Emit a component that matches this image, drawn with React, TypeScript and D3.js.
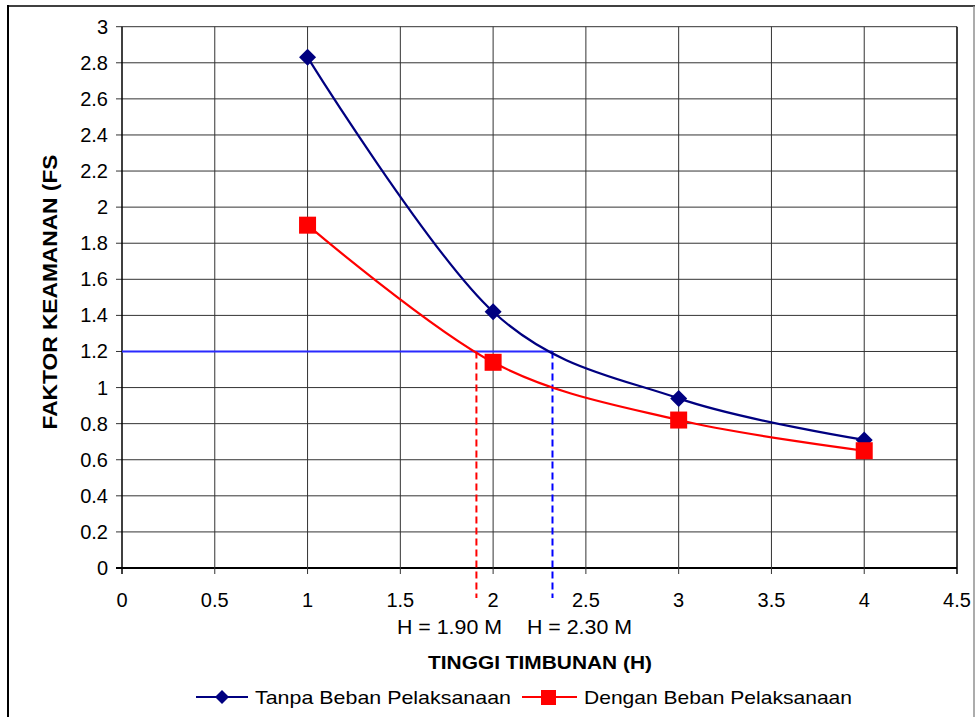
import React from "react";
import * as d3 from "d3";

const heights = [1, 2, 3, 4];
const fsTanpa = [2.83, 1.42, 0.94, 0.71];
const fsDengan = [1.9, 1.14, 0.82, 0.65];
const xTicks = [0, 0.5, 1, 1.5, 2, 2.5, 3, 3.5, 4, 4.5];
const yTicks = [0, 0.2, 0.4, 0.6, 0.8, 1, 1.2, 1.4, 1.6, 1.8, 2, 2.2, 2.4, 2.6, 2.8, 3];
const fsLimit = 1.2;
const hDengan = 1.91;
const hTanpa = 2.32;
const hLabels = ["H = 1.90 M", "H = 2.30 M"];
const seriesNames = ["Tanpa Beban Pelaksanaan", "Dengan Beban Pelaksanaan"];

const W = 975;
const H = 717;
const FONT = "'Liberation Sans', Arial, sans-serif";

export default function App() {
  const x = d3.scaleLinear().domain([0, 4.5]).range([122, 957]);
  const y = d3.scaleLinear().domain([0, 3]).range([568, 26.7]);
  const line = d3
    .line<[number, number]>()
    .x((d) => x(d[0]))
    .y((d) => y(d[1]))
    .curve(d3.curveCardinal.tension(0));
  const tanpaPts = heights.map((h, i) => [h, fsTanpa[i]] as [number, number]);
  const denganPts = heights.map((h, i) => [h, fsDengan[i]] as [number, number]);
  const navy = "#000080";
  const red = "#ff0000";
  const diamond = (cx: number, cy: number, r = 8.5) =>
    `M${cx},${cy - r}L${cx + r},${cy}L${cx},${cy + r}L${cx - r},${cy}Z`;

  return (
    <svg
      width={W}
      height={H}
      style={{ position: "absolute", left: 0, top: 0, background: "#fff" }}
      fontFamily={FONT}
    >
      <rect x={0} y={0} width={W} height={H} fill="#fff" />
      {/* outer frame */}
      <line x1={8} y1={6} x2={975} y2={6} stroke="#404040" strokeWidth={2} />
      <line x1={8} y1={5} x2={8} y2={717} stroke="#000" strokeWidth={2} />
      <line x1={974} y1={6} x2={974} y2={717} stroke="#909090" strokeWidth={1.5} />

      {/* grid */}
      {yTicks.map((t) => (
        <line key={"gy" + t} x1={116} x2={x(4.5)} y1={y(t)} y2={y(t)} stroke={t === 0 ? "#000" : "#333"} strokeWidth={t === 0 ? 2 : 1} />
      ))}
      {xTicks.map((t) => (
        <line key={"gx" + t} x1={x(t)} x2={x(t)} y1={y(3)} y2={574} stroke={t === 0 || t === 4.5 ? "#000" : "#333"} strokeWidth={t === 0 || t === 4.5 ? 1.5 : 1} />
      ))}

      {/* tick labels */}
      {yTicks.map((t) => (
        <text key={"ty" + t} x={108} y={y(t)} dy="0.35em" textAnchor="end" fontSize={20} fill="#000">
          {String(t)}
        </text>
      ))}
      {xTicks.map((t) => (
        <text key={"tx" + t} x={x(t)} y={607} textAnchor="middle" fontSize={20} fill="#000">
          {String(t)}
        </text>
      ))}

      {/* reference lines */}
      <line x1={x(0)} x2={x(hTanpa)} y1={y(fsLimit)} y2={y(fsLimit)} stroke="#2a2aff" strokeWidth={2} />
      <line x1={x(hDengan)} x2={x(hDengan)} y1={y(fsLimit)} y2={598} stroke={red} strokeWidth={2} strokeDasharray="7,4" />
      <line x1={x(hTanpa)} x2={x(hTanpa)} y1={y(fsLimit)} y2={598} stroke="#0000ff" strokeWidth={2} strokeDasharray="7,4" />

      {/* series */}
      <path d={line(tanpaPts) || ""} fill="none" stroke={navy} strokeWidth={2.2} />
      <path d={line(denganPts) || ""} fill="none" stroke={red} strokeWidth={2.2} />
      {tanpaPts.map((p, i) => (
        <path key={"m1" + i} d={diamond(x(p[0]), y(p[1]))} fill={navy} />
      ))}
      {denganPts.map((p, i) => (
        <rect key={"m2" + i} x={x(p[0]) - 8.5} y={y(p[1]) - 8.5} width={17} height={17} fill={red} />
      ))}

      {/* H labels */}
      <text x={449.5} y={634} textAnchor="middle" fontSize={20} textLength={105} lengthAdjust="spacingAndGlyphs">{hLabels[0]}</text>
      <text x={579.5} y={634} textAnchor="middle" fontSize={20} textLength={105} lengthAdjust="spacingAndGlyphs">{hLabels[1]}</text>

      {/* axis titles */}
      <text x={540} y={669} textAnchor="middle" fontSize={18} fontWeight="bold" textLength={224} lengthAdjust="spacingAndGlyphs">
        TINGGI TIMBUNAN (H)
      </text>
      <text transform="translate(57,292) rotate(-90)" textAnchor="middle" fontSize={20} fontWeight="bold" textLength={275} lengthAdjust="spacingAndGlyphs">
        FAKTOR KEAMANAN (FS
      </text>

      {/* legend */}
      <line x1={196} x2={248} y1={697} y2={697} stroke={navy} strokeWidth={2} />
      <path d={diamond(222, 697, 7)} fill={navy} />
      <text x={255} y={704} fontSize={19} textLength={256} lengthAdjust="spacingAndGlyphs">{seriesNames[0]}</text>
      <line x1={522} x2={577} y1={697} y2={697} stroke={red} strokeWidth={2} />
      <rect x={541} y={690} width={15} height={15} fill={red} />
      <text x={584} y={704} fontSize={19} textLength={268} lengthAdjust="spacingAndGlyphs">{seriesNames[1]}</text>
    </svg>
  );
}
